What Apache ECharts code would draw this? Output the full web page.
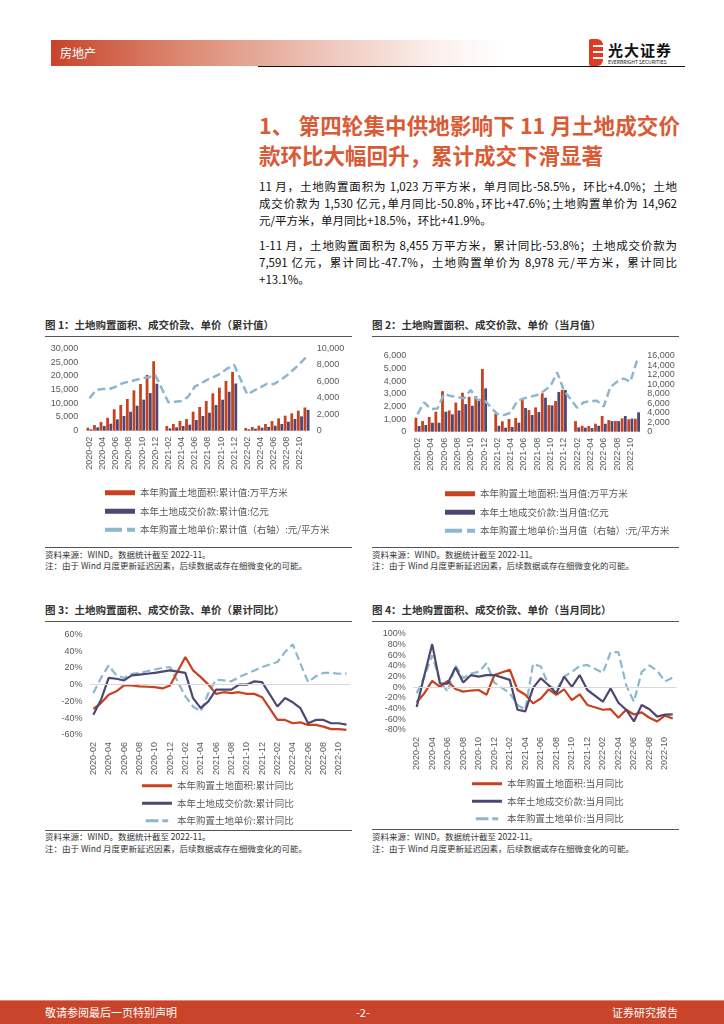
<!DOCTYPE html>
<html><head><meta charset="utf-8">
<script src="https://cdn.jsdelivr.net/npm/echarts@6/dist/echarts.min.js"></script>
<style>
body{margin:0;width:724px;height:1024px;position:relative;background:#fff;font-family:"Noto Sans CJK SC","Liberation Sans",sans-serif;overflow:hidden}
.a{position:absolute}
.ln{position:absolute;left:259px;width:418px;font-size:11.5px;color:#111;line-height:17px;height:17px;white-space:nowrap}
.j{text-align:justify;text-align-last:justify}
.ct{position:absolute;font-size:10.5px;font-weight:bold;color:#333;line-height:14px;white-space:nowrap}
.hr{position:absolute;height:1px;background:#555}
.src{position:absolute;font-size:8.5px;color:#333;line-height:11px;white-space:nowrap}
.ch{position:absolute;width:330px;height:205px}
.ch2{position:absolute;width:330px;height:215px}
</style></head><body>
<script>
// ---------- DATA ----------
const months = ['2020-02','2020-03','2020-04','2020-05','2020-06','2020-07','2020-08','2020-09','2020-10','2020-11','2020-12',
'2021-01','2021-02','2021-03','2021-04','2021-05','2021-06','2021-07','2021-08','2021-09','2021-10','2021-11','2021-12',
'2022-01','2022-02','2022-03','2022-04','2022-05','2022-06','2022-07','2022-08','2022-09','2022-10','2022-11'];
// Chart 1: cumulative values
const areaCum  = [1100,2060,3150,4700,7800,9350,11550,14700,17000,20300,25300,null,1700,2430,3520,4250,6920,8620,10800,13600,15670,18100,21400,null,970,1340,1820,2430,3520,4490,5470,6320,7290,8455];
const priceCum = [490,1210,1700,2550,4130,5340,6920,9110,11300,13700,17100,null,850,1210,1700,2190,3890,5340,6560,9350,11300,14200,17200,null,490,730,1090,1340,1820,2430,3280,4250,5220,7591];
const unitCum  = [3930,4940,5060,5060,5340,5750,5950,6150,6360,6480,6760,null,3440,3520,3600,4130,5340,5750,6230,6560,6960,7570,7980,null,4400,4850,5250,5700,5650,6100,6700,7400,8150,8978];
// Chart 2: monthly values
const areaMon  = [1100,840,1160,1580,3200,1680,2300,3080,2760,2820,4950,null,1420,820,1000,1080,2500,1710,1920,3030,2100,2420,3290,null,840,470,450,630,1240,920,840,1050,984,1023];
const priceMon = [450,530,710,710,1580,1370,1680,2180,2050,2500,3420,null,470,320,370,710,1870,1320,1550,2680,2080,3130,3290,null,340,320,290,470,630,840,840,1240,1037,1530];
const unitMon  = [3720,6180,4770,4900,7930,7500,7300,7020,8770,6700,6700,null,3720,3500,4000,6450,7020,7370,7720,8560,9610,12490,8700,null,5050,6200,6450,6500,5300,9400,10500,11200,10500,14962];
// Chart 3: cumulative YoY (%)
const areaCumYoY  = [-29,-22,-12,-8,-1,-1,-2,-2.5,-3,-4.5,-1,null,33,17,9,0,-11,-9,-10,-9,-11,-11,-15,null,-42,-42,-46,-45,-48,-48,-50,-53,-53,-53.8];
const priceCumYoY = [-36,-18,8,7,5,11,12,13,14,15.5,17,null,14,-16,-28,-20,-6,-6,-6,0,0,4,3,null,-26,-16,-21,-28,-46,-42,-42,-46,-46,-47.7];
const unitCumYoY  = [-10,8,23,11,8,13,14,16,18,20,21,null,-14,-26,-32,-10,6,5,4,9,13,17,21,null,27,39,48,25,3,10,14,14,13,13.1];
// Chart 4: monthly YoY (%)
const areaMonYoY  = [-28,-11,12,1,12,-3,-8,-6,-5,-14,23,null,33,-5,-14,-30,-21,-4,-14,-4,-24,-13,-33,null,-42,-41,-57,-42,-51,-47,-57,-64,-53,-58.5];
const priceMonYoY = [-37,23,81,7,7,37,9,23,20,23,23,null,14,-42,-45,-1,17,4,-11,20,1,23,-5,null,-27,-2,-29,-42,-64,-33,-41,-55,-51,-50.8];
const unitMonYoY  = [-11,20,60,12,-8,41,17,26,29,45,9,null,-11,-33,-42,44,39,4,-5,20,29,40,42,null,27,66,66,4,-27,29,41,31,11,18.5];
// Axis ticks
const c1Left = {min:0,max:30000,interval:5000}, c1Right = {min:0,max:10000,interval:2000};
const c2Left = {min:0,max:6000,interval:1000}, c2Right = {min:0,max:16000,interval:2000};
const c3Axis = {min:-60,max:60,interval:20}, c4Axis = {min:-80,max:100,interval:20};
// Legend names
const n1 = ['本年购置土地面积:累计值:万平方米','本年土地成交价款:累计值:亿元','本年购置土地单价:累计值（右轴）:元/平方米'];
const n2 = ['本年购置土地面积:当月值:万平方米','本年土地成交价款:当月值:亿元','本年购置土地单价:当月值（右轴）:元/平方米'];
const n3 = ['本年购置土地面积:累计同比','本年土地成交价款:累计同比','本年购置土地单价:累计同比'];
const n4 = ['本年购置土地面积:当月同比','本年土地成交价款:当月同比','本年购置土地单价:当月同比'];
</script>

<!-- header -->
<div class="a" style="left:51px;top:40px;width:450px;height:26px;background:linear-gradient(to right,#C8432A 0%,#DC8A73 30%,#EDC4B8 60%,#FBEFEC 85%,#fff 100%)"></div>
<div class="a" style="left:60px;top:44px;font-size:12px;color:#fff;line-height:18px">房地产</div>
<div class="a" style="left:258px;top:66px;width:427px;height:1px;background:#111"></div>
<div class="a" style="left:589px;top:39px;width:14px;height:27px;background:#E23A22;border-radius:2px 6px 6px 2px"></div>
<div class="a" style="left:593px;top:45px;width:10px;height:2px;background:#fff"></div>
<div class="a" style="left:593px;top:51px;width:10px;height:2px;background:#fff"></div>
<div class="a" style="left:593px;top:57px;width:10px;height:2px;background:#fff"></div>
<div class="a" style="left:608px;top:41px;font-size:15px;font-weight:bold;color:#111;line-height:18px;letter-spacing:1px">光大证券</div>
<div class="a" style="left:608px;top:59px;font-size:5px;color:#111;line-height:6px;white-space:nowrap">EVERBRIGHT SECURITIES</div>

<!-- title -->
<div class="a j" style="left:259px;top:110px;width:421px;font-size:21.5px;font-weight:bold;color:#D95A35;line-height:30px;height:30px;white-space:nowrap">1、 第四轮集中供地影响下 11 月土地成交价</div>
<div class="a" style="left:259px;top:140px;font-size:21.5px;font-weight:bold;color:#D95A35;line-height:30px;white-space:nowrap">款环比大幅回升，累计成交下滑显著</div>

<!-- body -->
<div class="ln j" style="top:178px">11 月，土地购置面积为 1,023 万平方米，单月同比-58.5%，环比+4.0%；土地</div>
<div class="ln j" style="top:195px;font-feature-settings:'halt'">成交价款为 1,530 亿元，单月同比-50.8%，环比+47.6%；土地购置单价为 14,962</div>
<div class="ln" style="top:212px">元/平方米，单月同比+18.5%，环比+41.9%。</div>
<div class="ln j" style="top:237px">1-11 月，土地购置面积为 8,455 万平方米，累计同比-53.8%；土地成交价款为</div>
<div class="ln j" style="top:254px">7,591 亿元，累计同比-47.7%，土地购置单价为 8,978 元/平方米，累计同比</div>
<div class="ln" style="top:271px">+13.1%。</div>

<!-- chart titles / rules / sources -->
<div class="ct" style="left:45px;top:318px">图 1：土地购置面积、成交价款、单价（累计值）</div>
<div class="hr" style="left:45px;top:336px;width:307px"></div>
<div class="ct" style="left:372px;top:318px">图 2：土地购置面积、成交价款、单价（当月值）</div>
<div class="hr" style="left:372px;top:336px;width:307px"></div>
<div class="hr" style="left:45px;top:547px;width:307px"></div>
<div class="src" style="left:45px;top:549px">资料来源：WIND。数据统计截至 2022-11。</div>
<div class="src" style="left:45px;top:560px">注：由于 Wind 月度更新延迟因素，后续数据或存在细微变化的可能。</div>
<div class="hr" style="left:372px;top:547px;width:307px"></div>
<div class="src" style="left:372px;top:549px">资料来源：WIND。数据统计截至 2022-11。</div>
<div class="src" style="left:372px;top:560px">注：由于 Wind 月度更新延迟因素，后续数据或存在细微变化的可能。</div>

<div class="ct" style="left:45px;top:603px">图 3：土地购置面积、成交价款、单价（累计同比）</div>
<div class="hr" style="left:45px;top:621px;width:307px"></div>
<div class="ct" style="left:372px;top:603px">图 4：土地购置面积、成交价款、单价（当月同比）</div>
<div class="hr" style="left:372px;top:621px;width:307px"></div>
<div class="hr" style="left:45px;top:830px;width:307px"></div>
<div class="src" style="left:45px;top:831px">资料来源：WIND。数据统计截至 2022-11。</div>
<div class="src" style="left:45px;top:843px">注：由于 Wind 月度更新延迟因素，后续数据或存在细微变化的可能。</div>
<div class="hr" style="left:372px;top:829px;width:307px"></div>
<div class="src" style="left:372px;top:831px">资料来源：WIND。数据统计截至 2022-11。</div>
<div class="src" style="left:372px;top:843px">注：由于 Wind 月度更新延迟因素，后续数据或存在细微变化的可能。</div>

<div id="c1" class="ch" style="left:30px;top:340px"></div>
<div id="c2" class="ch" style="left:365px;top:340px"></div>
<div id="c3" class="ch2" style="left:30px;top:622px"></div>
<div id="c4" class="ch2" style="left:365px;top:622px"></div>

<!-- footer -->
<div class="a" style="left:0;top:1000px;width:724px;height:24px;background:#C8442A;border-top:1px solid #E08A70"></div>
<div class="a" style="left:45px;top:1004px;font-size:11px;color:#fff;line-height:16px">敬请参阅最后一页特别声明</div>
<div class="a" style="left:356px;top:1004px;font-size:11px;color:#fff;line-height:16px">-2-</div>
<div class="a" style="left:612px;top:1004px;font-size:11px;color:#fff;line-height:16px">证券研究报告</div>

<script>
const RED='#C9421F', PUR='#4C4873', BLU='#8CB7CE';
const DASH_ICON = 'path://M0,0H17V4H0Z M22,0H30V4H22Z';
const lab = {color:'#595959',fontSize:9,fontFamily:'Liberation Sans, Arial, sans-serif'};
const fmt = v => v.toLocaleString('en-US');
const pct = v => v + '%';
function xAxisDef(margin){
  return {type:'category',data:months,boundaryGap:true,
    axisLine:{show:false},axisTick:{show:false},
    axisLabel:Object.assign({rotate:90,interval:1,margin:margin},lab)};
}
function legendDef(left,top,names,icons,ih,gap){
  return {orient:'vertical',left:left,top:top,itemWidth:30,itemHeight:ih,itemGap:gap,
    textStyle:{fontSize:9.5,color:'#595959',fontFamily:'Noto Sans CJK SC'},
    data:names.map((n,i)=>({name:n,icon:icons[i]}))};
}
function barLineChart(id,grid,names,bars1,bars2,line,left,right,lgLeft,lgTop){
  const c = echarts.init(document.getElementById(id),null,{renderer:'canvas'});
  c.setOption({
    animation:false,
    grid:grid,
    xAxis:xAxisDef(6),
    yAxis:[
      Object.assign({type:'value',splitLine:{show:false},axisLine:{show:false},axisTick:{show:false},
        axisLabel:Object.assign({formatter:fmt,margin:8},lab)},left),
      Object.assign({type:'value',position:'right',splitLine:{show:false},axisLine:{show:false},axisTick:{show:false},
        axisLabel:Object.assign({formatter:fmt,margin:7},lab)},right)
    ],
    legend:legendDef(lgLeft,lgTop,names,['rect','rect',DASH_ICON],5,9),
    series:[
      {name:names[0],type:'bar',data:bars1,barWidth:2.8,barGap:'15%',itemStyle:{color:RED}},
      {name:names[1],type:'bar',data:bars2,barWidth:2.8,barGap:'15%',itemStyle:{color:PUR}},
      {name:names[2],type:'line',yAxisIndex:1,data:line,connectNulls:true,symbol:'none',
        lineStyle:{color:BLU,width:2.5,type:[8,4]},itemStyle:{color:BLU}}
    ]
  });
}
function lineChart(id,grid,names,s1,s2,s3,axis,lgLeft,lgTop){
  const c = echarts.init(document.getElementById(id),null,{renderer:'canvas'});
  c.setOption({
    animation:false,
    grid:grid,
    xAxis:xAxisDef(7),
    yAxis:Object.assign({type:'value',splitLine:{show:false},axisLine:{show:false},axisTick:{show:false},
      axisLabel:Object.assign({formatter:pct,margin:7},lab)},axis),
    legend:legendDef(lgLeft,lgTop,names,['rect','rect',DASH_ICON],3,8),
    series:[
      {name:names[0],type:'line',data:s1,connectNulls:true,symbol:'none',z:3,
        lineStyle:{color:RED,width:2.2},itemStyle:{color:RED},
        markLine:{silent:true,symbol:'none',label:{show:false},lineStyle:{color:'#D9D9D9',width:1,type:'solid'},data:[{yAxis:0}]}},
      {name:names[1],type:'line',data:s2,connectNulls:true,symbol:'none',z:4,
        lineStyle:{color:PUR,width:2.2},itemStyle:{color:PUR}},
      {name:names[2],type:'line',data:s3,connectNulls:true,symbol:'none',z:2,
        lineStyle:{color:BLU,width:2.2,type:[8,4]},itemStyle:{color:BLU}}
    ]
  });
}
barLineChart('c1',{left:56.2,top:8.3,width:223.6,height:82.4},n1,areaCum,priceCum,unitCum,c1Left,c1Right,70,143);
barLineChart('c2',{left:49.2,top:15.7,width:226.1,height:76},n2,areaMon,priceMon,unitMon,c2Left,c2Right,75,144);
lineChart('c3',{left:59.5,top:12.3,width:260.8,height:100.7},n3,areaCumYoY,priceCumYoY,unitCumYoY,c3Axis,107,154);
lineChart('c4',{left:47.8,top:12,width:263.8,height:96},n4,areaMonYoY,priceMonYoY,unitMonYoY,c4Axis,102,152);
</script>
</body></html>
